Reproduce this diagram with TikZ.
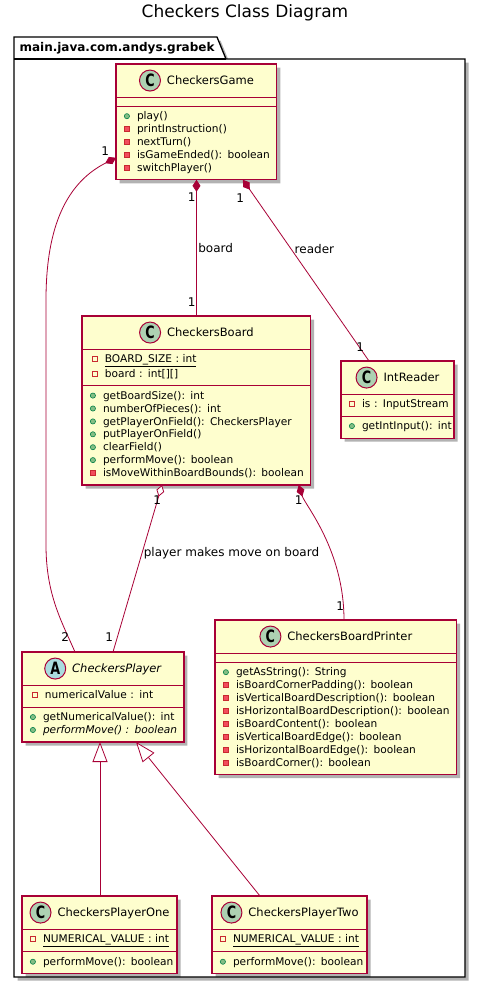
\documentclass[tikz,border=0pt]{standalone}
\usepackage{fontspec}
\setmainfont{DejaVu Sans}
\usepackage{graphicx}
\usepackage{tikz}
\usetikzlibrary{arrows.meta,shapes.multipart,shadows}
\definecolor{umlred}{HTML}{A80036}
\definecolor{umlbg}{HTML}{FEFECE}
\definecolor{cicon}{HTML}{ADD1B2}
\definecolor{aicon}{HTML}{A9DCDF}
\definecolor{pubg}{HTML}{84BE84}
\definecolor{pubd}{HTML}{038048}
\definecolor{prir}{HTML}{F24D5C}
\definecolor{prid}{HTML}{C82930}
\newcommand{\icon}[1]{\hbox to14pt{\hskip1pt\tikz[baseline=0pt,line width=.6pt]#1;\hss}}
\newcommand{\mpub}[1]{\hbox{\strut\icon{\draw[pubd,fill=pubg] (2.8pt,3.6pt) circle (2.6pt)}#1}\par}
\newcommand{\mpri}[1]{\hbox{\strut\icon{\draw[prid,fill=prir] (0.4pt,0.9pt) rectangle (5.6pt,6.1pt)}#1}\par}
\newcommand{\fpri}[1]{\hbox{\strut\icon{\draw[prid] (0.4pt,0.9pt) rectangle (5.6pt,6.1pt)}#1}\par}
\newcommand{\chead}[3]{\hbox to\hsize{\hss\rule[-8pt]{0pt}{24pt}\tikz[baseline=-4pt]\node[letter,fill=#1]{\scalebox{.75}[1]{#2}};\hskip6pt{\fontsize{11.5}{12}\selectfont#3}\hss}}
\tikzset{
  dropsh/.style={drop shadow={shadow xshift=3.5pt, shadow yshift=-3.5pt, fill=black, opacity=.3}},
  cls/.style={rectangle split, rectangle split parts=3, rectangle split empty part height=0pt, rectangle split empty part depth=0pt,
    draw=umlred, line width=1.1pt, fill=umlbg, inner xsep=7pt, inner ysep=4pt, outer sep=0pt, anchor=north west, align=left,
    font=\fontsize{10.6}{12.9}\selectfont, dropsh},
  letter/.style={circle, anchor=center, text width=, align=center, draw=umlred, line width=1pt, inner sep=0pt, outer sep=0pt,
    minimum size=21pt, font=\bfseries\fontsize{17}{17}\selectfont},
  pkg/.style={draw=black, line width=1.3pt, fill=white, dropsh},
  edge/.style={draw=umlred, line width=.8pt},
  comp/.style={edge, {Diamond[length=12pt,width=8pt]}-},
  aggr/.style={edge, {Diamond[length=12pt,width=8pt,fill=white]}-},
  inh/.style={edge, -{Triangle[length=20pt,width=15pt,fill=white]}},
  mult/.style={font=\fontsize{12}{12}\selectfont, inner sep=1.5pt},
  lbl/.style={font=\fontsize{12}{12}\selectfont, inner sep=1.5pt}
}
\begin{document}
\begin{tikzpicture}[x=1pt, y=-1pt]
\useasboundingbox (0,0) rectangle (486,988);
\node[font=\fontsize{17}{17}\selectfont] (title) at (245,13) {Checkers Class Diagram};
% package
\draw[pkg] (14,37) -- (217,37) -- (226,59) -- (465,59) -- (465,977) -- (14,977) -- cycle;
\draw[line width=1.3pt] (14,59) -- (226,59);
\node[font=\bfseries\fontsize{12}{12}\selectfont, anchor=west] (pkgname) at (16,48) {main.java.com.andys.grabek};
% classes
\node[cls, text width=142pt] (game) at (116,64) {\chead{cicon}{C}{CheckersGame}
  \nodepart{two}
  \nodepart{three}\mpub{play()}\mpri{printInstruction()}\mpri{nextTurn()}
  \mpri{isGameEnded(): boolean}\mpri{switchPlayer()}};
\node[cls, text width=211pt] (board) at (82,316) {\chead{cicon}{C}{CheckersBoard}
  \nodepart{two}\fpri{\underline{BOARD\_SIZE : int}}\fpri{board : int[][]}
  \nodepart{three}\mpub{getBoardSize(): int}\mpub{numberOfPieces(): int}
  \mpub{getPlayerOnField(): CheckersPlayer}\mpub{putPlayerOnField()}\mpub{clearField()}
  \mpub{performMove(): boolean}\mpri{isMoveWithinBoardBounds(): boolean}};
\node[cls, text width=99pt] (intreader) at (341,361) {\chead{cicon}{C}{IntReader}
  \nodepart{two}\fpri{is : InputStream}
  \nodepart{three}\mpub{getIntInput(): int}};
\node[cls, text width=144pt] (player) at (22,652) {\chead{aicon}{A}{\textit{CheckersPlayer}}
  \nodepart{two}\fpri{numericalValue : int}
  \nodepart{three}\mpub{getNumericalValue(): int}\mpub{\textit{performMove() : boolean}}};
\node[cls, text width=227pt] (printer) at (215,620) {\chead{cicon}{C}{CheckersBoardPrinter}
  \nodepart{two}
  \nodepart{three}\mpub{getAsString(): String}\mpri{isBoardCornerPadding(): boolean}
  \mpri{isVerticalBoardDescription(): boolean}\mpri{isHorizontalBoardDescription(): boolean}
  \mpri{isBoardContent(): boolean}\mpri{isVerticalBoardEdge(): boolean}
  \mpri{isHorizontalBoardEdge(): boolean}\mpri{isBoardCorner(): boolean}};
\node[cls, text width=141pt] (one) at (22,896) {\chead{cicon}{C}{CheckersPlayerOne}
  \nodepart{two}\fpri{\underline{NUMERICAL\_VALUE : int}}
  \nodepart{three}\mpub{performMove(): boolean}};
\node[cls, text width=141pt] (two) at (212,896) {\chead{cicon}{C}{CheckersPlayerTwo}
  \nodepart{two}\fpri{\underline{NUMERICAL\_VALUE : int}}
  \nodepart{three}\mpub{performMove(): boolean}};
% relations
\draw[comp] ([yshift=22pt]game.south west) node[mult, anchor=south east, xshift=-5pt] {1}
  .. controls (62,185) and (46,235) .. (46,300) -- (46,545) .. controls (46,595) and (62,622) .. ([xshift=53pt]player.north west)
  node[mult, anchor=south east, xshift=-4pt, yshift=9pt] {2};
\draw[comp] (game.south) node[mult, anchor=north east, xshift=1pt, yshift=-11pt] {1}
  -- node[lbl, right] {board} (game.south |- board.north) node[mult, anchor=south east, xshift=1pt, yshift=8pt] {1};
\draw[comp] ([xshift=-34pt]game.south east) node[mult, anchor=north east, xshift=3pt, yshift=-12pt] {1}
  -- node[lbl, pos=.38, right, xshift=2pt] {reader} ([xshift=28pt]intreader.north west)
  node[mult, anchor=south east, xshift=-3pt, yshift=8pt] {1};
\draw[aggr] ([xshift=80pt]board.south west) node[mult, anchor=north east, xshift=1pt, yshift=-9pt] {1}
  -- node[lbl, pos=.41, right] {player makes move on board} ([xshift=91pt]player.north west)
  node[mult, anchor=south east, xshift=2pt, yshift=9pt] {1};
\draw[comp] ([xshift=-12pt]board.south east) node[mult, anchor=north, yshift=-9pt] {1}
  .. controls (305,505) and (344,550) .. ([xshift=129pt]printer.north west)
  node[mult, anchor=south east, xshift=2pt, yshift=8pt] {1};
\draw[inh] ([xshift=78pt]one.north west) -- ([xshift=78pt]player.south west);
\draw[inh] ([xshift=48pt]two.north west) -- ([xshift=114pt]player.south west);
\end{tikzpicture}
\end{document}
